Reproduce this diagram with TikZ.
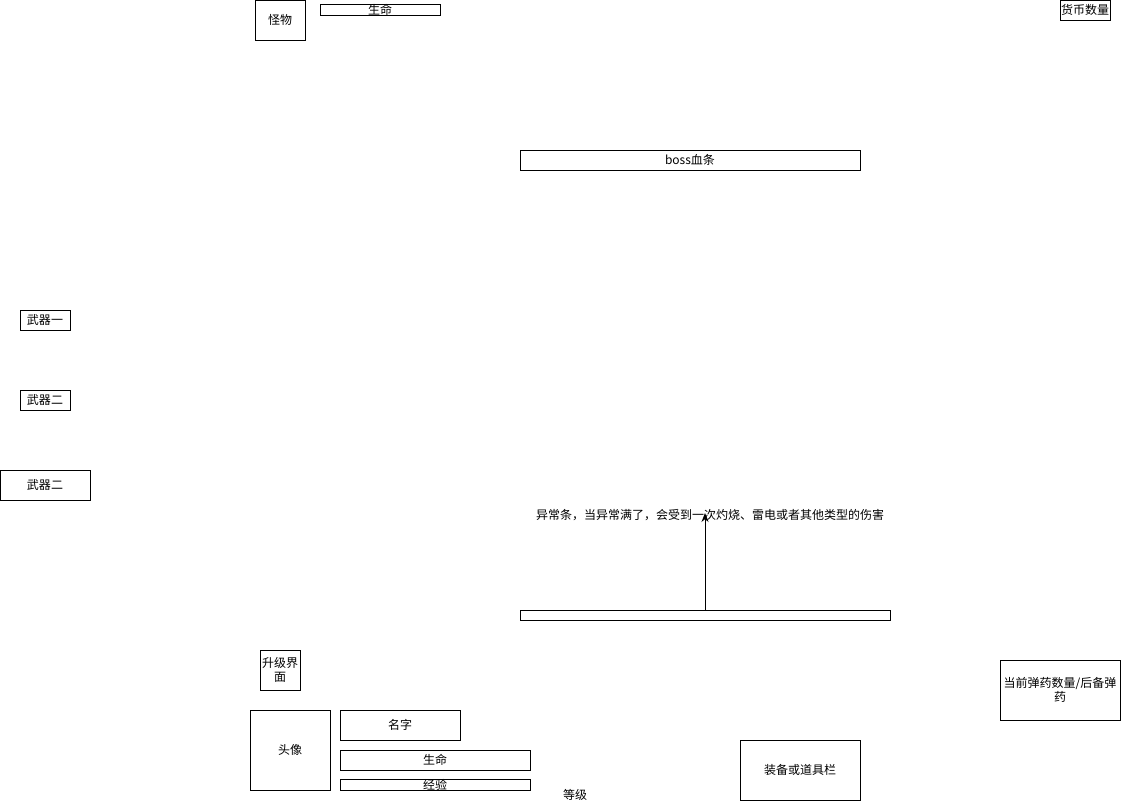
\documentclass[tikz,border=0pt]{standalone}
\usepackage{fontspec}
\setmainfont{Noto Sans CJK SC}
\usetikzlibrary{arrows.meta}
\begin{document}
\begin{tikzpicture}[x=1pt,y=-1pt,
  box/.style={draw=black,line width=0.9pt,fill=white,inner sep=0pt,font=\fontsize{12}{14}\selectfont,align=center},
  lbl/.style={inner sep=0pt,font=\fontsize{12}{14}\selectfont}]
\useasboundingbox (0,0) rectangle (1121,811);
\node[box,minimum width=50pt,minimum height=40pt] (monster) at (280,20) {怪物};
\node[box,minimum width=120pt,minimum height=10pt] (mhp) at (380,10) {\raisebox{-1pt}{生命}};
\node[box,minimum width=50pt,minimum height=20pt] (coin) at (1085,10) {货币数量};
\node[box,minimum width=340pt,minimum height=20pt] (boss) at (690,160) {boss血条};
\node[box,minimum width=50pt,minimum height=20pt] (w1) at (45,320) {武器一};
\node[box,minimum width=50pt,minimum height=20pt] (w2) at (45,400) {武器二};
\node[box,minimum width=90pt,minimum height=30pt] (w3) at (45,485) {武器二};
\node[lbl] (abn) at (710,515) {异常条，当异常满了，会受到一次灼烧、雷电或者其他类型的伤害};
\node[box,minimum width=370pt,minimum height=10pt] (abar) at (705,615) {};
\coordinate (tip) at (705,513);
\draw[line width=0.9pt,-{Stealth[length=9pt,width=7pt]}] (abar.north -| tip) -- (tip);
\node[box,minimum width=40pt,minimum height=40pt,text width=40pt] (up) at (280,670) {升级界\\面};
\node[box,minimum width=80pt,minimum height=80pt] (head) at (290,750) {头像};
\node[box,minimum width=120pt,minimum height=30pt] (name) at (400,725) {名字};
\node[box,minimum width=190pt,minimum height=20pt] (hp) at (435,760) {生命};
\node[box,minimum width=190pt,minimum height=10pt] (exp) at (435,785) {\raisebox{-3pt}{经验}};
\node[lbl] (lvl) at (575,795) {等级};
\node[box,minimum width=120pt,minimum height=60pt] (equip) at (800,770) {装备或道具栏};
\node[box,minimum width=120pt,minimum height=60pt,text width=118pt] (ammo) at (1060,690) {当前弹药数量/后备弹\\药};
\end{tikzpicture}
\end{document}
